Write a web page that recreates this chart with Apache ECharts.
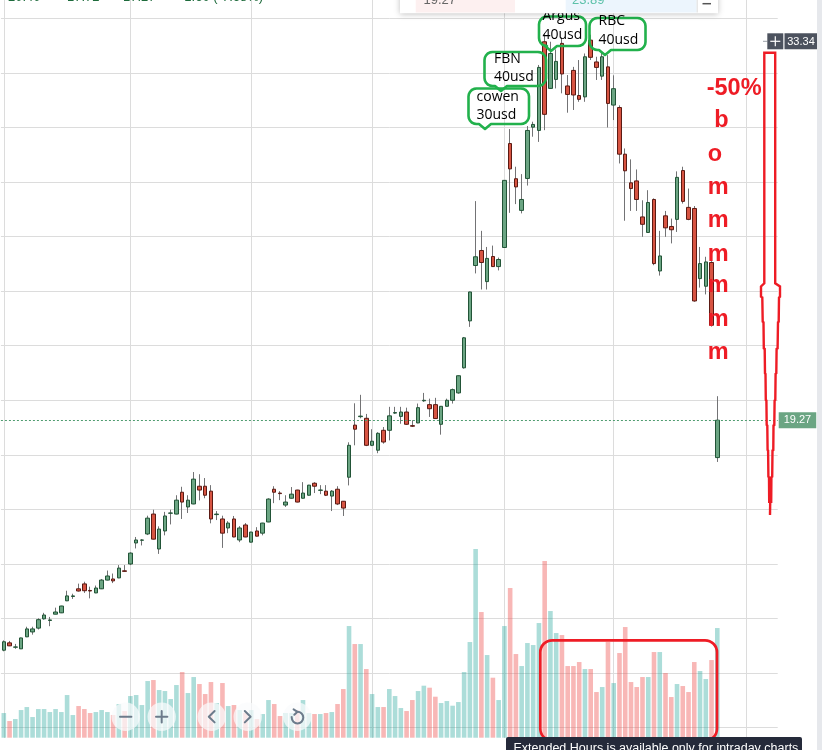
<!DOCTYPE html>
<html><head><meta charset="utf-8">
<script src="https://cdn.jsdelivr.net/npm/echarts@6/dist/echarts.min.js"></script>
<style>html,body{margin:0;padding:0;background:#fff;}#c{width:822px;height:750px;}</style>
</head><body><div id="c"></div>
<script>
// ---------- data ----------
const opens = [10.84,11.11,10.95,10.89,11.33,11.51,11.65,11.99,11.93,12.16,12.21,12.65,12.81,13.09,13.27,13.03,12.94,13.09,13.41,13.45,
13.49,13.75,14.00,14.77,14.87,15.10,15.83,14.55,15.21,15.86,15.83,16.63,16.09,16.20,16.85,16.85,16.67,15.81,15.65,15.32,
15.65,14.88,15.43,14.80,15.21,15.13,15.54,16.74,16.60,16.16,16.41,16.71,16.41,16.52,16.96,16.70,16.67,16.49,16.74,16.30,
17.18,19.09,19.40,19.34,18.35,18.17,18.90,18.90,19.53,19.41,19.57,19.07,19.17,19.98,19.84,19.84,19.12,19.78,20.00,20.27,
21.19,22.91,24.94,25.49,24.35,25.27,24.90,25.60,29.41,28.12,26.96,28.13,30.01,29.89,33.14,31.43,31.76,33.08,31.52,32.09,
31.17,31.12,33.20,32.40,31.88,32.22,30.82,30.73,29.02,27.97,28.04,26.72,26.15,27.36,24.74,26.76,26.37,26.63,28.42,27.07,
27.03,24.46,24.18,25.05,17.90];
const highs = [11.20,11.18,11.07,11.30,11.70,11.70,12.01,12.21,12.06,12.40,12.47,13.02,12.91,13.28,13.35,13.17,13.21,13.45,13.76,13.65,
13.96,13.96,14.43,14.99,14.91,15.77,15.99,15.38,15.91,15.99,16.52,16.83,16.52,17.37,17.29,17.15,16.89,15.94,15.77,15.57,
15.76,15.39,15.50,15.18,15.35,15.51,16.41,16.85,16.67,16.52,16.82,16.72,17.00,16.90,17.00,16.89,16.89,16.71,16.85,16.31,
18.46,19.89,20.20,19.50,18.94,18.83,19.02,19.76,19.76,19.76,19.73,19.27,19.88,20.27,20.06,20.09,19.79,20.06,20.43,20.91,
22.32,23.98,27.30,26.21,25.62,25.67,25.23,28.07,29.94,28.56,28.29,30.05,30.21,32.29,33.45,33.14,32.86,33.30,31.92,32.22,
32.47,32.71,33.40,32.59,32.78,32.65,31.91,30.81,29.23,28.83,28.46,27.33,27.70,27.40,26.21,26.94,26.66,28.39,28.56,27.76,
27.12,25.62,25.26,25.10,20.15];
const lows = [10.80,10.99,10.89,10.89,11.32,11.41,11.60,11.96,11.72,12.16,12.20,12.64,12.72,12.99,12.94,12.74,12.93,13.08,13.40,13.30,
13.48,13.72,13.96,14.57,14.68,15.06,14.90,14.37,15.05,15.45,15.82,15.65,15.87,16.19,16.33,16.41,15.49,15.61,14.59,15.13,
14.98,14.80,14.98,14.79,15.01,15.05,15.53,16.23,16.34,16.09,16.40,16.26,16.40,16.51,16.60,16.56,16.49,15.94,16.16,15.76,
16.88,18.35,19.34,18.32,18.32,18.06,18.41,18.53,19.50,19.14,19.10,19.02,19.16,19.94,19.39,19.32,18.74,19.77,19.88,20.24,
21.16,22.69,24.65,24.06,24.06,24.89,24.76,25.59,26.87,27.19,26.85,27.87,29.66,29.47,29.90,31.42,31.43,31.25,30.54,30.64,
30.94,30.94,32.47,31.74,31.74,30.00,30.27,28.68,26.58,26.94,26.94,25.99,26.14,24.95,24.57,25.99,25.75,26.17,27.21,26.60,
23.61,24.13,23.88,22.70,17.74];
const closes = [11.15,11.00,10.96,11.29,11.62,11.62,11.96,12.13,11.95,12.24,12.46,12.83,12.83,13.01,13.02,13.01,13.12,13.41,13.56,13.38,
13.85,13.73,14.40,14.88,14.88,15.68,14.91,15.28,15.76,15.87,16.34,16.27,16.34,17.11,16.71,16.52,15.65,15.83,15.13,15.50,
14.99,15.32,14.99,15.17,15.02,15.50,16.38,16.63,16.58,16.27,16.56,16.27,16.60,16.89,16.85,16.71,16.52,16.67,16.20,16.05,
18.35,18.94,19.42,18.35,18.50,18.79,18.47,19.43,19.55,19.57,19.12,19.05,19.73,20.00,19.69,19.33,19.78,20.00,20.39,20.90,
22.29,23.97,25.26,25.05,25.20,24.90,25.16,28.06,28.48,27.82,27.36,29.89,30.11,32.20,30.48,32.71,32.42,31.96,31.21,31.19,
31.03,32.59,32.57,32.20,32.59,30.88,31.42,29.02,28.41,27.76,27.36,26.45,27.25,25.01,25.29,26.32,26.25,28.17,27.29,26.63,
23.64,25.01,25.07,22.75,19.27];
const volumes = [0.74,0.50,0.56,0.83,0.92,0.62,0.86,0.86,0.77,0.86,0.77,1.28,0.68,0.95,0.86,0.74,0.77,0.83,0.77,0.68,
1.01,0.80,1.25,1.28,0.98,1.70,1.73,1.43,1.40,1.16,1.58,1.97,1.34,1.82,1.61,1.31,1.67,1.04,1.64,0.95,
0.98,0.83,0.74,0.83,0.56,0.71,1.13,1.01,0.65,0.74,0.74,0.83,1.13,0.74,0.71,0.71,0.74,0.77,1.01,1.46,
3.35,2.81,2.81,2.06,1.31,0.92,0.92,1.46,1.25,0.89,0.80,1.13,1.40,1.56,1.50,1.23,1.04,1.10,0.96,1.07,
1.97,2.87,5.66,3.77,2.48,1.80,1.13,3.35,4.49,2.51,2.15,2.84,2.78,3.44,5.30,3.80,3.14,3.08,2.15,2.15,
2.27,2.06,2.06,1.37,1.52,2.87,1.64,2.54,3.32,1.67,1.52,1.82,1.82,2.57,2.57,1.94,1.22,1.61,1.55,1.37,
2.27,2.00,1.76,2.33,3.29];
const monthStarts = [0,22,43,64,87,106,129];
const totalSlots = 135;
const priceAxis = [8, 34, 2];          // min, max, step
const crosshairPrice = '33.34';
const headerValues = ['20.40','17.72','17.27','-1.60 (-7.68%)'];
const compareValues = ['19.27','23.89'];
const analystNotes = [['cowen','30usd'],['FBN','40usd'],['Argus','40usd'],['RBC','40usd']];
const bombLines = ['-50%','b','o','m','m','m','m','m','m'];
const tooltipText = 'Extended Hours is available only for intraday charts';

// ---------- styling ----------
const gridColor = '#dcdcdc';
const upBody = '#6ba583', downBody = '#d75442';
const upBorder = '#225437', downBorder = '#5b1a13';
const wickColor = '#737375';
const upVol = 'rgba(38,166,154,0.38)', downVol = 'rgba(239,83,80,0.42)';
const paintRed = '#ee1c25', paintGreen = '#22b14c';

const slots = Array.from({length: totalSlots}, (_, i) => 'D' + (i + 1));
const wickData = opens.map((o, i) => [o, closes[i], lows[i], highs[i]]);
const bodyData = opens.map((o, i) => [o, closes[i], Math.min(o, closes[i]), Math.max(o, closes[i])]);
const volData = volumes.map((v, i) => ({value: v, itemStyle: {color: closes[i] >= opens[i] ? upVol : downVol}}));
const lastClose = closes[closes.length - 1];

// ---------- overlay drawings ----------
const G = [];
function calloutPts(x0, y0, x1, y1, r, nx, nd) {
  const pts = [];
  const arc = (cx, cy, a0, a1) => { for (let k = 0; k <= 5; k++) { const a = a0 + (a1 - a0) * k / 5; pts.push([cx + r * Math.cos(a), cy + r * Math.sin(a)]); } };
  arc(x0 + r, y0 + r, Math.PI, 1.5 * Math.PI);
  arc(x1 - r, y0 + r, 1.5 * Math.PI, 2 * Math.PI);
  arc(x1 - r, y1 - r, 0, 0.5 * Math.PI);
  pts.push([nx + 6, y1], [nx, y1 + nd], [nx - 6, y1]);
  arc(x0 + r, y1 - r, 0.5 * Math.PI, Math.PI);
  return pts;
}
const noteBoxes = [
  {x0:468.5, y0:88.5, x1:529, y1:124, nx:485, tx:476.5, b1:102, b2:120},
  {x0:484.5, y0:52, x1:546, y1:86, nx:501, tx:494, b1:63.5, b2:82},
  {x0:539, y0:16.5, x1:586, y1:46, nx:551, tx:542.5, b1:21, b2:40},
  {x0:589.5, y0:18, x1:645.5, y1:50, nx:605, tx:598.5, b1:26, b2:45}
];
const noteFont = '14px "Open Sans"';
noteBoxes.forEach((b, k) => {
  G.push({type:'polygon', z:60, shape:{points: calloutPts(b.x0, b.y0, b.x1, b.y1, 8, b.nx, 5)},
    style:{fill:'none', stroke:paintGreen, lineWidth:2.6, lineJoin:'round'}});
  G.push({type:'text', z:61, x:b.tx, y:b.b1 - 4.5, style:{text:analystNotes[k][0], font:noteFont, fill:'#000', textVerticalAlign:'middle'}});
  G.push({type:'text', z:61, x:b.tx, y:b.b2 - 4.5, style:{text:analystNotes[k][1], font:noteFont, fill:'#000', textVerticalAlign:'middle'}});
});
// red "-50% bommmmmm" column
const bombPos = [[706.7,96.5],[714.3,128.3],[707.7,161.7],[707.7,195],[707.7,228.3],[707.7,261.7],[707.7,293.3],[707.7,326.7],[707.7,360]];
bombLines.forEach((t, k) => {
  G.push({type:'text', z:70, x:bombPos[k][0], y:bombPos[k][1] - 7.5,
    style:{text:t, font:'bold 23.5px "Liberation Sans"', fill:paintRed, textVerticalAlign:'middle'}});
});
// red funnel arrow
const funnelL = [[764.3,52.7],[764.3,283.3],[761,286.5],[761,296.7],[762.3,297.5],[762.7,321.7],[763.5,322.3],[763.8,348.3],[764.7,348.9],[765,373.3],[765.5,373.9],[765.8,400],[766.4,400.5],[766.7,425],[767.3,425.5],[767.6,450],[768.1,450.5],[768.4,476.7],[769,477.2],[769.2,501.7]];
const funnelR = [[771.2,501.7],[771.4,477.2],[772.2,476.7],[772.5,450.5],[773.3,450],[773.5,425.5],[774.3,425],[774.6,400.5],[775.3,400],[775.6,373.9],[776.3,373.3],[776.6,348.9],[777.6,348.3],[778,322.3],[778.7,321.7],[779,297.5],[780,296.7],[780,286.5],[775.2,283.3],[775.2,52.7]];
G.push({type:'polygon', z:70, shape:{points: funnelL.concat(funnelR)}, style:{fill:'none', stroke:paintRed, lineWidth:2.4, lineJoin:'miter'}});
G.push({type:'line', z:70, shape:{x1:770.2, y1:501.7, x2:770, y2:515}, style:{stroke:paintRed, lineWidth:2.4}});
// red rounded frame around the volume
G.push({type:'rect', z:70, shape:{x:540.3, y:640.3, width:176.7, height:100.4, r:12}, style:{fill:'none', stroke:paintRed, lineWidth:2.7}});

// header: legend values (cut at the top edge)
const headerX = [8, 67, 123, 180];
headerValues.forEach((t, k) => G.push({type:'text', z:80, x:headerX[k], y:-2.5, style:{text:t, font:'13px "Liberation Sans"', fill:'#1e6b3c', textVerticalAlign:'middle'}}));
// header: compare box
G.push({type:'rect', z:80, shape:{x:400, y:-10, width:318, height:23.3}, style:{fill:'#fff', shadowBlur:6, shadowColor:'rgba(0,0,0,0.25)', shadowOffsetY:1}});
G.push({type:'rect', z:81, shape:{x:415.7, y:-10, width:99.3, height:22.5}, style:{fill:'#fdf0f0'}});
G.push({type:'rect', z:81, shape:{x:565.7, y:-10, width:131, height:22.5}, style:{fill:'#ecf5fd'}});
G.push({type:'line', z:81, shape:{x1:697.2, y1:0, x2:697.2, y2:12.5}, style:{stroke:'#dddddd', lineWidth:1}});
G.push({type:'line', z:82, shape:{x1:702.5, y1:3.7, x2:711, y2:3.7}, style:{stroke:'#555', lineWidth:1.5}});
G.push({type:'text', z:82, x:423.5, y:0.5, style:{text:compareValues[0], font:'13px "Liberation Sans"', fill:'#666', textVerticalAlign:'middle'}});
G.push({type:'text', z:82, x:572, y:0.5, style:{text:compareValues[1], font:'13px "Liberation Sans"', fill:'#5cc1a9', textVerticalAlign:'middle'}});

// crosshair price label + plus
G.push({type:'line', z:80, shape:{x1:763, y1:41.3, x2:767.3, y2:41.3}, style:{stroke:'#9aa0a8', lineWidth:1}});
G.push({type:'rect', z:80, shape:{x:767.3, y:33.3, width:16, height:16}, style:{fill:'#4c525e'}});
G.push({type:'line', z:81, shape:{x1:770.3, y1:41.3, x2:780.3, y2:41.3}, style:{stroke:'#fff', lineWidth:1.2}});
G.push({type:'line', z:81, shape:{x1:775.3, y1:36.3, x2:775.3, y2:46.3}, style:{stroke:'#fff', lineWidth:1.2}});
G.push({type:'rect', z:80, shape:{x:784.5, y:33.3, width:33, height:16}, style:{fill:'#4c525e'}});
G.push({type:'text', z:81, x:801, y:41.5, style:{text:crosshairPrice, font:'11px "Liberation Sans"', fill:'#fff', textAlign:'center', textVerticalAlign:'middle'}});

// navigation buttons
const btnX = [125.7, 161.7, 211.7, 247.7, 297.3], btnY = 716.7, iconC = '#6c7b8b';
btnX.forEach(x => G.push({type:'circle', z:85, shape:{cx:x, cy:btnY, r:14.2}, style:{fill:'rgba(250,251,252,0.72)'}}));
const ist = {stroke:iconC, lineWidth:2, fill:'none', lineCap:'round', lineJoin:'round'};
G.push({type:'line', z:86, shape:{x1:120, y1:btnY, x2:131.4, y2:btnY}, style:ist});
G.push({type:'line', z:86, shape:{x1:156, y1:btnY, x2:167.4, y2:btnY}, style:ist});
G.push({type:'line', z:86, shape:{x1:161.7, y1:711, x2:161.7, y2:722.4}, style:ist});
G.push({type:'polyline', z:86, shape:{points:[[214.6,711],[208.8,btnY],[214.6,722.4]]}, style:ist});
G.push({type:'polyline', z:86, shape:{points:[[244.8,711],[250.6,btnY],[244.8,722.4]]}, style:ist});
G.push({type:'arc', z:86, shape:{cx:297.5, cy:717.6, r:5.8, startAngle:-Math.PI/2, endAngle:Math.PI*1.08, clockwise:true}, style:{stroke:iconC, lineWidth:2, fill:'none'}});
G.push({type:'polyline', z:86, shape:{points:[[293.6,709.3],[297.5,711.8],[294.3,714.8]]}, style:ist});

// bottom info tooltip
G.push({type:'rect', z:90, shape:{x:506, y:737, width:296, height:20, r:2}, style:{fill:'#252a3a'}});
G.push({type:'text', z:91, x:513.5, y:749, style:{text:tooltipText, font:'12.5px "Liberation Sans"', fill:'#fff', textVerticalAlign:'middle'}});
// right scroll strip
G.push({type:'rect', z:90, shape:{x:817, y:0, width:5, height:750}, style:{fill:'#e6e8ec'}});

// ---------- chart ----------
const slotW = 5.754, firstCenter = 3.8;
const chart = echarts.init(document.getElementById('c'), null, {renderer:'canvas'});
chart.setOption({
  animation:false,
  backgroundColor:'#ffffff',
  grid:[
    {left:firstCenter - slotW/2, top:18.3, width:slotW*totalSlots, height:709.4},
    {left:firstCenter - slotW/2, top:537.7, width:slotW*totalSlots, height:200},
    {left:firstCenter, top:0, width:slotW*(totalSlots-1), height:738}
  ],
  xAxis:[
    {type:'category', gridIndex:0, data:slots, axisLine:{show:false}, axisTick:{show:false}, axisLabel:{show:false}, splitLine:{show:false}},
    {type:'category', gridIndex:1, data:slots, show:false},
    {type:'category', gridIndex:2, data:slots, boundaryGap:false, axisLine:{show:false}, axisTick:{show:false}, axisLabel:{show:false},
      splitLine:{show:true, interval:(i) => monthStarts.includes(i), lineStyle:{color:gridColor, width:1}}}
  ],
  yAxis:[
    {type:'value', gridIndex:0, min:priceAxis[0], max:priceAxis[1], interval:priceAxis[2], position:'right',
      axisLine:{show:false}, axisTick:{show:false}, axisLabel:{show:false}, splitLine:{show:true, lineStyle:{color:gridColor, width:1}}},
    {type:'value', gridIndex:1, min:0, max:6, show:false, splitLine:{show:false}},
    {type:'value', gridIndex:2, min:0, max:1, show:false, splitLine:{show:false}}
  ],
  series:[
    {type:'bar', name:'Volume', xAxisIndex:1, yAxisIndex:1, data:volData, barWidth:4.6, z:2, silent:true},
    {type:'candlestick', name:'wick', xAxisIndex:0, yAxisIndex:0, data:wickData, barWidth:1, z:3, silent:true,
      itemStyle:{color:wickColor, color0:wickColor, borderColor:wickColor, borderColor0:wickColor, borderWidth:1}},
    {type:'candlestick', name:'body', xAxisIndex:0, yAxisIndex:0, data:bodyData, barWidth:4, z:4, silent:true,
      itemStyle:{color:upBody, color0:downBody, borderColor:upBorder, borderColor0:downBorder, borderWidth:1},
      markLine:{silent:true, symbol:['none','none'], animation:false,
        lineStyle:{color:'#4f9c70', type:[2,2], width:1},
        label:{show:true, position:'end', distance:1, formatter:() => lastClose.toFixed(2), color:'#fff',
          backgroundColor:upBody, padding:[3,5,2,5], fontSize:11, fontFamily:'Liberation Sans'},
        data:[{yAxis:lastClose}]}}
  ],
  graphic:{elements:G}
});
</script></body></html>
